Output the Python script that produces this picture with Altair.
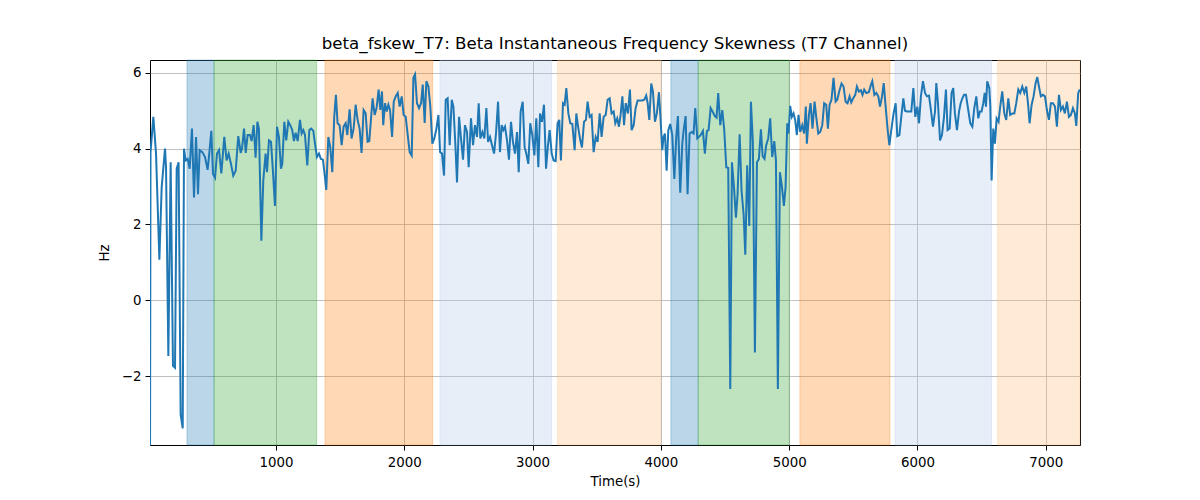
import altair as alt
import pandas as pd

# sampled signal (seconds, Hz)
time_s = [
    18, 22, 44, 65, 91, 109, 135, 143, 161, 179, 197, 213, 226, 241, 257, 273, 283, 296, 312, 327,
    345, 361, 377, 392, 405, 426, 447, 467, 480, 496, 509, 525, 540, 556, 574, 597, 615, 631, 649, 667,
    686, 706, 725, 735, 751, 764, 779, 797, 810, 826, 841, 855, 867, 886, 901, 919, 930,
    945, 961, 976, 992, 1008, 1023, 1039, 1049, 1065, 1080, 1096, 1111, 1127, 1140, 1153, 1169, 1187,
    1200, 1213, 1226, 1244, 1260, 1275, 1291, 1304, 1319, 1335, 1350, 1366, 1382, 1392, 1408, 1423,
    1439, 1454, 1467, 1480, 1496, 1512, 1527, 1543, 1556, 1574, 1589, 1605, 1621, 1636, 1652, 1667,
    1683, 1699, 1714, 1727, 1740, 1753, 1769, 1784, 1800, 1813, 1826, 1836,
    1850, 1863, 1876, 1889, 1905, 1918, 1933, 1949, 1964, 1980, 1995, 2011, 2027, 2042, 2058, 2071,
    2084, 2099, 2115, 2131, 2144, 2159, 2172, 2188, 2203, 2219, 2234, 2250, 2266, 2279, 2294, 2310,
    2323, 2338, 2354, 2370, 2383, 2398, 2411, 2427, 2442, 2458, 2473, 2489, 2502, 2520, 2536, 2551,
    2567, 2580, 2593, 2609, 2624, 2640, 2653, 2668, 2684, 2700, 2715, 2731, 2746, 2759, 2772, 2785, 2801,
    2816, 2832, 2847, 2863, 2879, 2892, 2907, 2923, 2938, 2951, 2967, 2982, 2998, 3014, 3029, 3045,
    3058, 3073, 3089, 3105, 3120, 3133, 3149, 3164, 3180, 3195, 3208, 3221, 3237, 3250, 3263, 3279,
    3294, 3310, 3328, 3341, 3357, 3372, 3385, 3401, 3416, 3429, 3445, 3460, 3476, 3492, 3507, 3523,
    3538, 3554, 3570, 3585, 3601, 3616, 3632, 3645, 3660, 3673, 3686, 3700, 3713, 3726,
    3743, 3759, 3772, 3788, 3803, 3819, 3837, 3855, 3871, 3886, 3897, 3910, 3925, 3938, 3954, 3969,
    3985, 3998, 4011, 4021, 4032, 4045, 4058, 4073, 4089, 4105, 4120, 4133, 4151, 4167, 4177, 4193,
    4208, 4224, 4240, 4255, 4268, 4284, 4297, 4312, 4328, 4343, 4359, 4372, 4388, 4403, 4421, 4434,
    4447, 4463, 4479, 4494, 4510, 4525, 4541, 4554, 4570, 4585, 4598, 4614, 4629, 4645, 4658, 4673, 4689,
    4702, 4717, 4733, 4749, 4764, 4780, 4793, 4808, 4821, 4837, 4852, 4868, 4884, 4897, 4912, 4928,
    4943, 4959, 4972, 4985, 4995, 5008, 5021, 5034, 5047, 5060, 5073, 5086, 5102, 5117, 5130, 5138,
    5154, 5167, 5182, 5198, 5211, 5227, 5242, 5258, 5273, 5289, 5302, 5315, 5330, 5346, 5362, 5375,
    5390, 5408, 5424, 5440, 5455, 5471, 5484, 5499, 5515, 5528, 5543, 5559, 5572, 5585, 5601, 5621,
    5638, 5648, 5664, 5679, 5695, 5708, 5724, 5737, 5752, 5768, 5781, 5796, 5814, 5830, 5843, 5859,
    5874, 5890, 5903, 5918, 5937, 5952, 5968, 5983, 5999, 6012, 6027, 6043, 6059, 6074, 6090, 6105,
    6121, 6137, 6147, 6160, 6176, 6191, 6207, 6222, 6235, 6251, 6266, 6279, 6292, 6308, 6324, 6337,
    6350, 6363, 6378, 6396, 6412, 6428, 6443, 6459, 6474, 6487, 6500, 6513, 6524, 6534, 6544,
    6560, 6568, 6578, 6591, 6604, 6617, 6632, 6645, 6661, 6677, 6692, 6708, 6723, 6739, 6755, 6770,
    6786, 6801, 6817, 6833, 6848, 6864, 6874, 6890, 6905, 6921, 6934, 6947, 6962, 6978, 6994, 7009,
    7025, 7040, 7056, 7072, 7087, 7103, 7118, 7134, 7149, 7165, 7181, 7196, 7212, 7227, 7238, 7253, 7266,
]
hz = [
    -4.5, 3.9, 4.84, 3.87, 1.07, 2.98, 4.0, 3.51, -1.47, 3.64, -1.73, -1.78, 3.47, 3.64, -3.02, -3.38, 4.0, 3.69, 3.73, 3.47,
    4.53, 2.71, 4.31, 2.8, 3.96, 3.91, 3.78, 3.44, 3.87, 4.47, 3.33, 3.23, 3.87, 3.96, 3.35, 4.31, 3.69, 3.87, 3.6, 3.29,
    3.42, 4.33, 3.89, 4.0, 4.53, 3.89, 4.36, 4.36, 4.2, 4.62, 3.76, 4.71, 4.53, 1.57, 3.16, 3.87, 3.38,
    4.22, 4.18, 3.42, 2.49, 4.58, 4.31, 3.47, 3.6, 4.71, 4.22, 4.71, 4.62, 4.49, 4.2, 4.42, 4.2, 4.76,
    4.4, 4.49, 4.36, 3.56, 4.49, 4.53, 4.47, 4.13, 3.78, 3.87, 3.73, 3.71, 3.24, 2.91, 4.31, 4.04,
    3.38, 4.84, 5.42, 4.67, 4.62, 4.09, 4.58, 4.67, 4.36, 5.04, 4.27, 4.53, 5.16, 4.76, 4.53, 3.89,
    5.02, 4.93, 4.18, 4.2, 4.76, 5.33, 4.89, 5.07, 5.56, 5.02, 5.51, 4.62,
    5.2, 4.98, 5.16, 5.02, 4.31, 5.24, 5.38, 5.47, 5.11, 5.38, 4.89, 4.84, 4.36, 3.91, 3.82, 5.87,
    5.96, 5.2, 5.07, 5.2, 5.69, 4.68, 5.78, 5.64, 5.11, 4.13, 4.27, 4.51, 4.89, 3.91, 3.87, 3.29,
    5.29, 5.33, 4.09, 5.29, 5.11, 4.13, 3.11, 4.84, 4.27, 3.71, 4.62, 4.44, 3.51, 4.8, 4.09, 4.62,
    4.31, 5.2, 4.27, 4.44, 4.27, 5.07, 4.18, 4.31, 4.09, 3.87, 4.4, 5.24, 3.91, 4.62, 4.49, 4.58, 4.22,
    3.71, 4.71, 4.18, 3.87, 4.44, 3.38, 4.98, 5.24, 4.04, 3.87, 3.6, 4.67, 4.36, 3.82, 4.8, 3.51,
    4.93, 4.71, 5.16, 3.47, 4.09, 4.49, 3.87, 3.69, 3.67, 4.67, 4.76, 3.69, 5.2, 5.16, 5.6, 4.93,
    4.67, 4.65, 3.96, 4.93, 4.53, 4.22, 4.03, 4.71, 4.76, 5.24, 4.84, 4.89, 3.91, 4.31, 4.18, 4.93,
    4.31, 4.84, 4.89, 5.29, 5.33, 4.93, 4.98, 4.67, 4.8, 4.58, 4.89, 5.38, 4.62, 5.2,
    4.93, 5.56, 4.49, 4.62, 5.07, 5.27, 5.27, 5.27, 5.29, 5.4, 5.2, 4.76, 5.72, 5.51, 4.71, 4.93,
    5.49, 4.76, 3.96, 4.31, 4.4, 3.42, 4.49, 4.65, 4.36, 3.2, 4.31, 4.86, 2.84, 4.13, 4.47, 4.86,
    2.8, 4.4, 4.44, 4.4, 5.07, 4.27, 4.31, 4.37, 4.47, 3.87, 4.47, 4.49, 5.07, 4.98, 4.86, 4.82,
    5.47, 4.62, 5.02, 4.49, 3.51, 3.49, -2.34, 3.64, 2.98, 2.18, 2.8, 4.38, 2.89, 2.27, 1.2, 3.56, 1.96,
    5.24, 4.18, -1.38, 3.64, 3.73, 4.51, 3.8, 3.73, 4.09, 4.27, 4.8, 3.78, 4.2, 3.69, -2.34, 3.38,
    3.02, 2.49, 2.98, 4.67, 4.4, 5.13, 4.84, 4.93, 4.76, 4.36, 4.89, 4.44, 4.62, 4.4, 5.11, 4.13,
    4.89, 5.2, 4.53, 5.24, 4.84, 4.4, 4.44, 4.62, 5.2, 5.16, 4.53, 5.16, 5.29, 5.87, 5.24, 5.29,
    5.51, 5.72, 5.64, 5.24, 5.2, 5.38, 5.22, 5.33, 5.42, 5.64, 5.51, 5.54, 5.42, 5.56, 5.47, 5.49,
    5.69, 5.78, 5.42, 5.47, 5.38, 5.11, 5.38, 5.73, 5.11, 4.49, 4.09, 4.49, 4.93, 5.2, 4.33, 4.36,
    4.84, 5.33, 5.0, 4.98, 4.98, 4.98, 5.6, 4.84, 5.11, 4.67, 5.38, 5.78, 5.47, 5.38, 5.4, 5.02,
    4.58, 4.98, 5.73, 5.2, 4.22, 4.36, 4.84, 5.56, 4.49, 4.53, 5.47, 5.6, 4.93, 4.49, 4.98, 5.2,
    5.33, 5.42, 5.42, 5.02, 4.67, 4.58, 5.07, 5.38, 4.8, 4.98, 4.98, 5.2, 5.47, 5.11, 5.78,
    5.6, 5.11, 3.16, 4.53, 4.13, 4.8, 4.71, 5.11, 5.51, 4.93, 4.76, 5.33, 4.89, 4.93, 4.93, 5.2,
    5.56, 5.47, 5.64, 5.47, 5.64, 5.11, 4.67, 5.16, 5.38, 5.73, 5.89, 5.64, 5.38, 5.42, 5.38, 5.02,
    4.76, 5.2, 5.2, 5.11, 4.58, 5.42, 5.02, 5.11, 4.93, 5.24, 4.84, 4.89, 5.07, 4.93, 4.6, 5.47, 5.56,
]

# shaded phases
band_start = [306, 517, 1382, 2278, 3195, 4078, 4291, 5084, 5825, 6625]
band_end = [517, 1317, 2221, 3149, 3998, 4291, 5001, 5786, 6578, 7267]
band_kind = ["A", "B", "C", "D", "E", "A", "B", "C", "D", "E"]

kinds = ["A", "B", "C", "D", "E"]
kind_colors = ["#1f77b4", "#2ca02c", "#ff7f0e", "#aec7e8", "#ffbb78"]

signal = pd.DataFrame({"t": time_s, "v": hz})
bands = pd.DataFrame({"start": band_start, "end": band_end, "kind": band_kind})

x_scale = alt.Scale(domain=[18, 7267], nice=False, zero=False)
y_scale = alt.Scale(domain=[-3.82, 6.34], nice=False, zero=False)

x_axis = alt.Axis(values=[1000, 2000, 3000, 4000, 5000, 6000, 7000], title="Time(s)",
                  format="d", tickSize=5, labelPadding=5, titlePadding=6)
y_axis = alt.Axis(values=[-2, 0, 2, 4, 6], title="Hz", tickSize=5, labelPadding=4, titlePadding=10)

shading = alt.Chart(bands).mark_rect(fillOpacity=0.3, strokeOpacity=0.3, strokeWidth=1).encode(
    x=alt.X("start:Q", scale=x_scale, axis=x_axis),
    x2="end:Q",
    fill=alt.Fill("kind:N", scale=alt.Scale(domain=kinds, range=kind_colors), legend=None),
    stroke=alt.Stroke("kind:N", scale=alt.Scale(domain=kinds, range=kind_colors), legend=None),
)

line = alt.Chart(signal).mark_line(color="#1f77b4", strokeWidth=2, clip=True).encode(
    x=alt.X("t:Q", scale=x_scale, axis=x_axis),
    y=alt.Y("v:Q", scale=y_scale, axis=y_axis),
)

chart = (shading + line).properties(
    width=930,
    height=385,
    title=alt.TitleParams(
        "beta_fskew_T7: Beta Instantaneous Frequency Skewness (T7 Channel)",
        fontSize=16.67, fontWeight="normal", font="DejaVu Sans", color="black",
        anchor="middle", offset=7,
    ),
    autosize=alt.AutoSizeParams(type="none"),
    padding={"left": 142, "top": 52, "right": 112, "bottom": 47},
).configure_axis(
    labelFont="DejaVu Sans", titleFont="DejaVu Sans",
    labelFontSize=13.33, titleFontSize=13.33, titleFontWeight="normal",
    labelColor="black", titleColor="black", tickColor="black",
    domain=False, gridColor="#b0b0b0", gridWidth=0.8, gridOpacity=1,
).configure_view(
    stroke="black", strokeWidth=1,
)

chart.save("out.html", embed_options={"renderer": "svg", "actions": False})
